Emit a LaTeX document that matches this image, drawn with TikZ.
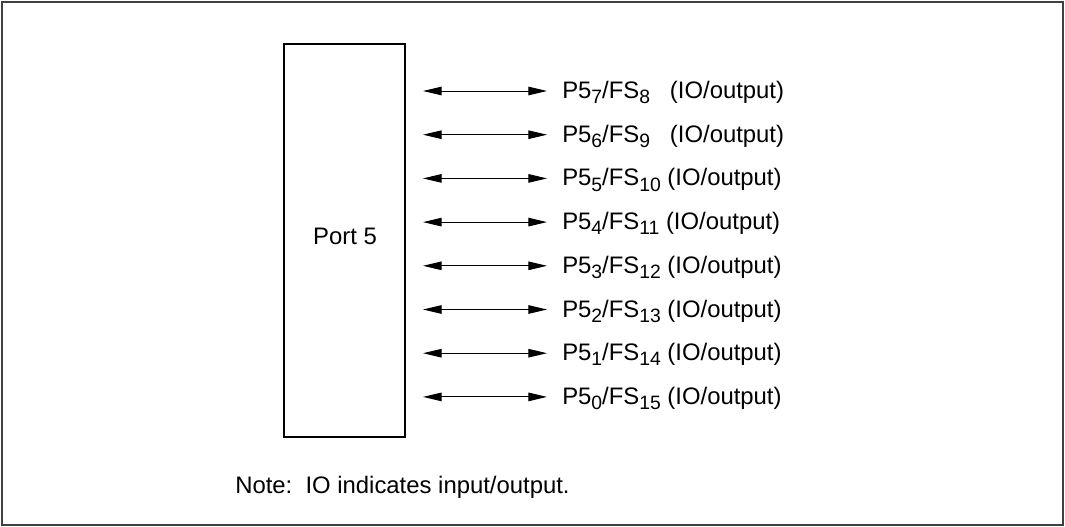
\documentclass[tikz,border=0pt]{standalone}
\usepackage{fontspec}
\setmainfont{Liberation Sans}
\usetikzlibrary{arrows.meta,positioning}
\newcommand{\pinsub}[1]{\raisebox{-0.22em}{\fontsize{14.5}{15}\selectfont #1}}
\tikzset{
  pinarrow/.style={{Stealth[length=14pt,width=6.4pt,inset=0pt]}-{Stealth[length=14pt,width=6.4pt,inset=0pt]}, line width=0.75pt},
  pinlabel/.style={anchor=base west, inner sep=0pt, font=\fontsize{17.9}{21}\selectfont},
  portbox/.style={draw, line width=0.9pt, inner sep=0pt},
}
\begin{document}
\begin{tikzpicture}[x=0.75pt,y=-0.75pt]
    \useasboundingbox (0,0) rectangle (1065,526);
    % outer frame
    \draw[line width=1.8pt, draw=black!75] (2,2) rectangle (1063,525);
    % port block
    \node[portbox, minimum width=90.75pt, minimum height=294.75pt] (port) at (344.5,240.5) {};
    \node[pinlabel, anchor=base] (portname) at (345,244) {Port 5};
    % pins
    \foreach \k in {0,...,7} {
        \pgfmathsetmacro\yy{91+43.7*\k}
        \pgfmathtruncatemacro\pin{7-\k}
        \pgfmathtruncatemacro\fs{8+\k}
        \coordinate (a\k) at (423,\yy);
        \coordinate (b\k) at (547,\yy);
        \node[pinlabel] (pin\k) at (562,\yy+7.5)
            {P5\pinsub{\pin}/FS\pinsub{\fs}\ifnum\fs<10\ \ \fi\ (IO/output)};
        \draw[pinarrow] (a\k) -- (b\k);
    }
    % note
    \node[pinlabel] (note) at (235,493) {Note:\ \ IO indicates input/output.};
\end{tikzpicture}
\end{document}
